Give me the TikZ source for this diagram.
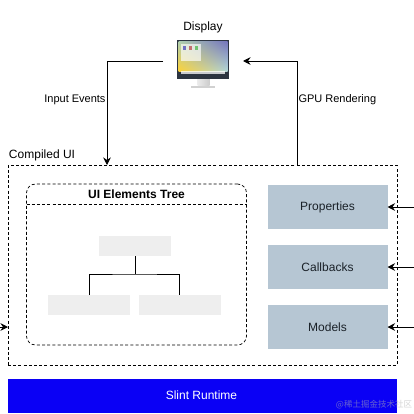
\documentclass[tikz,border=0pt]{standalone}
\usepackage{fontspec}
\setmainfont{Liberation Sans}
\newfontfamily\cjkfont{Noto Sans CJK SC}
\usetikzlibrary{arrows.meta,calc,shadings}
\definecolor{panelblue}{HTML}{B6C6D3}
\definecolor{treegrey}{HTML}{EEEEEE}
\definecolor{runtimeblue}{HTML}{0A00F5}
\definecolor{inktext}{HTML}{1A2128}
\definecolor{bezel}{HTML}{2C3440}
\tikzset{pin/.style={-{Stealth[length=7.5pt,width=7.5pt]},line width=0.8pt},
  dashbox/.style={draw, line width=0.7pt, dash pattern=on 3pt off 2.2pt},
  inbox/.style={fill=panelblue, minimum width=120pt, minimum height=44pt, font=\fontsize{12}{14}\selectfont, text=inktext},
  treebox/.style={fill=treegrey, minimum height=20pt}}

\begin{document}
\begin{tikzpicture}[x=1pt,y=-1pt,inner sep=0pt,outer sep=0pt]
  \useasboundingbox (0,0) rectangle (414,414);
  \fill[white] (0,0) rectangle (414,414);
  % outer frame and runtime bar
  \node[dashbox, minimum width=389pt, minimum height=200pt] (ui) at (202.5,265) {};
  \node[fill=runtimeblue, minimum width=389pt, minimum height=34pt] (runtime) at (202.5,396) {};
  \node[text=white, font=\fontsize{12}{14}\selectfont] (runtimelabel) at (201.5,395) {Slint Runtime};
  \node[anchor=south west, font=\fontsize{12}{14}\selectfont] (uilabel) at ($(ui.north west)+(1,-4)$) {Compiled UI};
  % tree panel
  \node[dashbox, rounded corners=9pt, minimum width=220pt, minimum height=161pt] (tree) at (136.5,264.5) {};
  \draw[dashbox] ($(tree.north west)+(0,20)$) -- ($(tree.north east)+(0,20)$);
  \node[font=\bfseries\fontsize{12}{14}\selectfont] (treetitle) at ($(tree.north)+(0,10)$) {UI Elements Tree};
  \node[treebox, minimum width=72pt] (top) at (135,246) {};
  \node[treebox, minimum width=82pt] (leafl) at (89,305) {};
  \node[treebox, minimum width=82pt] (leafr) at (179.5,305) {};
  \draw[line width=0.8pt] (top.south) -- ++(0,18) coordinate (fork);
  \draw[line width=0.8pt] (leafl.north) |- (fork) -| (leafr.north);
  % right hand panels
  \node[inbox] (props) at (327.5,207) {\raisebox{-.7pt}{Properties}};
  \node[inbox] (calls) at (327.5,267) {Callbacks};
  \node[inbox] (models) at (327.5,327) {Models};
  \foreach \n in {props,calls,models}
    \draw[pin] ($(\n.east)+(26.5,0)$) -- (\n.east);
  \coordinate (leftin) at (0,327);
  \draw[pin] (leftin) -- (leftin -| ui.west);
  % display
  \node[minimum width=80pt, minimum height=48pt] (display) at (203,61) {};
  \node[font=\fontsize{12}{14}\selectfont] (displabel) at (203,27) {Display};
  \shade[left color=black!8, right color=black!20] (197.5,79) rectangle (209.5,86);
  \fill[black!18] (191,86) rectangle (215,88);
  \fill[bezel] (177,40) rectangle (229,79);
  \shade[shading=bilinear interpolation, lower left=orange!45!yellow!80!white, lower right=teal!30!white, upper right=blue!35!gray!80, upper left=green!25!gray!50] (178.5,41.5) rectangle (227.5,72);
  \fill[white, opacity=.65] (181,44) rectangle (201,61);
  \foreach \c/\x in {blue/184,red/190,green/196}
    \fill[\c!40!gray!80] (\x-1.5,46) rectangle (\x+1.5,50);
  \fill[white, opacity=.75] (181,71.5) rectangle (225,74);
  % arrows
  \coordinate (inpoint) at (107,0);
  \coordinate (gpupoint) at (297,0);
  \draw[pin] (display.west) -| (inpoint |- ui.north);
  \draw[pin] (gpupoint |- ui.north) |- (display.east);
  \node[anchor=east, font=\fontsize{11}{13}\selectfont] (inlabel) at (105.5,100) {Input Events};
  \node[anchor=west, font=\fontsize{11}{13}\selectfont] (gpulabel) at (298.5,100) {GPU Rendering};
  \node[anchor=east, text=gray!60, opacity=.55, font=\cjkfont\fontsize{8.5}{10}\selectfont] (mark) at (412,405) {@稀土掘金技术社区};
\end{tikzpicture}
\end{document}
